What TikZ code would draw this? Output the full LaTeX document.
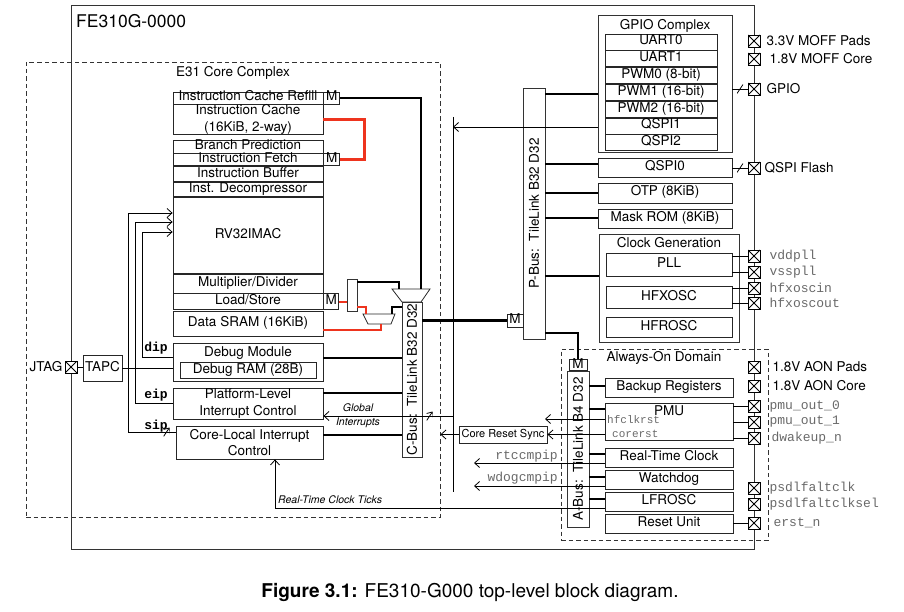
\documentclass[tikz,border=0pt]{standalone}
\usepackage{fontspec}
\setmainfont{TeX Gyre Heros}
\setsansfont{TeX Gyre Heros}
\setmonofont{Liberation Mono}
\usepackage{tikz}
\usetikzlibrary{positioning,arrows.meta}

\definecolor{linkred}{RGB}{238,52,30}
\definecolor{siggray}{RGB}{105,105,105}

\newcommand{\blkfont}{\fontsize{13.5}{16.5}\selectfont}
\newcommand{\sigfont}{\fontsize{13}{14}\selectfont\ttfamily}

\tikzset{
    blk/.style={draw=black!85, line width=0.8pt, inner sep=0pt, align=center, font=\blkfont},
    row/.style={blk, text height=8.5pt, text depth=2.5pt},
    mbox/.style={row, minimum width=16pt},
    grp/.style={draw=black!80, line width=0.8pt, inner sep=0pt},
    grplbl/.style={font=\blkfont, inner sep=0pt},
    dashbox/.style={grp, dash pattern=on 4.5pt off 3pt},
    muxline/.style={draw=black!85, line width=0.8pt, fill=white},
    wire/.style={line width=0.8pt},
    sig/.style={wire, -{Straight Barb[length=5pt,width=9pt]}},
    tlbus/.style={line width=2.8pt},
    redlink/.style={line width=2.6pt, draw=linkred},
    padbox/.style={draw, line width=0.8pt, fill=white, minimum size=12pt, inner sep=0pt,
        path picture={\draw[line width=0.8pt]
            (path picture bounding box.south west) -- (path picture bounding box.north east)
            (path picture bounding box.north west) -- (path picture bounding box.south east);}},
    padlbl/.style={font=\blkfont, inner sep=0pt},
    siglbl/.style={font=\sigfont, text=siggray, inner sep=0pt},
    irqlbl/.style={font=\fontsize{13}{14}\selectfont\ttfamily\bfseries, inner sep=0pt},
    note/.style={font=\fontsize{10.5}{12}\selectfont\itshape, inner sep=0pt},
    slashmark/.style={inner sep=0pt, minimum width=6pt, minimum height=9pt,
        path picture={\draw[wire] (path picture bounding box.south west) -- (path picture bounding box.north east);}},
}

\begin{document}
\begin{tikzpicture}[x=1pt, y=-1pt]
    \useasboundingbox (0,0) rectangle (904,612);

    % chip and domains
    \node[grp, minimum width=683pt, minimum height=544pt] (chip) at (412.5,277) {};
    \node[anchor=west, font=\fontsize{17.5}{20}\selectfont, inner sep=0pt] (chipname) at (76,21) {FE310G-0000};
    \node[dashbox, minimum width=414pt, minimum height=455pt] (e31) at (233,289.5) {};
    \node[grplbl] (e31name) at (233,73) {E31 Core Complex};
    \node[dashbox, minimum width=207pt, minimum height=191pt] (aon) at (664.5,444.5) {};
    \node[grplbl] (aonname) at (664,358) {Always-On Domain};

    % instruction side
    \node[row, minimum width=150pt, minimum height=12pt] (icrefill) at (248,98) {Instruction Cache Refill};
    \node[blk, minimum width=150pt, minimum height=29pt, below=0pt of icrefill] (icache) {Instruction Cache\\(16KiB, 2-way)};
    \node[mbox, minimum height=12pt, right=0pt of icrefill] (mirefill) {M};

    \node[row, minimum width=150pt, minimum height=13pt] (bpred) at (248,146.5) {Branch Prediction};
    \node[row, minimum width=150pt, minimum height=12pt, below=0pt of bpred] (ifetch) {Instruction Fetch};
    \node[row, minimum width=150pt, minimum height=15pt, below=0pt of ifetch] (ibuf) {Instruction Buffer};
    \node[row, minimum width=150pt, minimum height=14pt, below=0pt of ibuf] (idec) {Inst. Decompressor};
    \node[row, minimum width=150pt, minimum height=76pt, below=0pt of idec] (rvcore) {RV32IMAC};
    \node[row, minimum width=150pt, minimum height=19pt, below=0pt of rvcore] (muldiv) {Multiplier/Divider};
    \node[row, minimum width=150pt, minimum height=16pt, below=0pt of muldiv] (lsu) {Load/Store};
    \node[mbox, minimum height=12pt, right=0pt of ifetch] (mifetch) {M};
    \node[mbox, minimum width=15pt, minimum height=16pt, right=0pt of lsu] (mlsu) {M};

    % data side
    \node[row, minimum width=150pt, minimum height=25pt] (dsram) at (248,323.5) {Data SRAM (16KiB)};
    \node[blk, minimum width=150pt, minimum height=38pt] (dbg) at (248,362) {};
    \node[grplbl, below=4pt of dbg.north] (dbgname) {Debug Module};
    \node[row, minimum width=136pt, minimum height=16pt] (dram) at (248,370) {Debug RAM (28B)};
    \node[blk, minimum width=150pt, minimum height=31pt] (plic) at (248,403.5) {Platform-Level\\Interrupt Control};
    \node[blk, minimum width=147pt, minimum height=33pt] (clint) at (249.5,442.5) {Core-Local Interrupt\\Control};

    \node[padbox] (jtag) at (71,367) {};
    \node[padlbl, left=2pt of jtag] (jtagname) {JTAG};
    \node[row, minimum width=39pt, minimum height=26pt] (tapc) at (102.5,368) {TAPC};

    % muxes
    \node[grp, minimum width=10pt, minimum height=32pt] (demux) at (352,295) {};
    \draw[muxline] (392,289) -- (430,289) -- (421,302) -- (402,302) -- cycle;
    \draw[muxline] (363,314) -- (395,314) -- (391,324) -- (368,324) -- cycle;
    \coordinate (cmuxa) at (399,289);
    \coordinate (cmuxb) at (421,289);
    \coordinate (dmuxa) at (366,314);
    \coordinate (dmuxb) at (381,324);
    \coordinate (dmuxout) at (392,314);

    % buses
    \node[grp, minimum width=20pt, minimum height=155pt] (cbus) at (412,379.5) {};
    \node[rotate=90, font=\blkfont, inner sep=0pt] (cbusname) at (cbus) {C-Bus:\ \ TileLink B32 D32};
    \node[grp, minimum width=22pt, minimum height=251pt] (pbus) at (534,213.5) {};
    \node[rotate=90, font=\blkfont, inner sep=0pt] (pbusname) at (pbus) {P-Bus:\ \ TileLink B32 D32};
    \node[mbox, minimum height=13pt] (mpbus) at (515,320.5) {M};
    \node[grp, minimum width=22pt, minimum height=156pt] (abus) at (578,449) {};
    \node[rotate=90, font=\blkfont, inner sep=0pt] (abusname) at (abus) {A-Bus:\ \ TileLink B4 D32};
    \node[mbox, minimum width=18pt, minimum height=11pt, text height=8pt, text depth=1pt, above=0pt of abus] (mabus) {M};

    % peripherals
    \node[grp, minimum width=134pt, minimum height=137pt] (gpiocx) at (665,83.5) {};
    \node[grplbl, below=5pt of gpiocx.north] (gpioname) {GPIO Complex};
    \node[row, minimum width=112pt, minimum height=16pt] (uart0) at (661,42) {UART0};
    \node[row, minimum width=112pt, minimum height=16pt, below=0pt of uart0] (uart1) {UART1};
    \node[row, minimum width=112pt, minimum height=16pt, below=0pt of uart1] (pwm0) {PWM0 (8-bit)};
    \node[row, minimum width=112pt, minimum height=16pt, below=0pt of pwm0] (pwm1) {PWM1 (16-bit)};
    \node[row, minimum width=112pt, minimum height=16pt, below=0pt of pwm1] (pwm2) {PWM2 (16-bit)};
    \node[row, minimum width=112pt, minimum height=16pt, below=0pt of pwm2] (qspi1) {QSPI1};
    \node[row, minimum width=112pt, minimum height=16pt, below=0pt of qspi1] (qspi2) {QSPI2};

    \node[row, minimum width=134pt, minimum height=19pt] (qspi0) at (665,167.5) {QSPI0};
    \node[row, minimum width=134pt, minimum height=20pt] (otp) at (665,193) {OTP (8KiB)};
    \node[row, minimum width=134pt, minimum height=19pt] (mrom) at (665,218.5) {Mask ROM (8KiB)};

    \node[grp, minimum width=140pt, minimum height=108pt] (clkgen) at (669,288) {};
    \node[grplbl, below=4pt of clkgen.north] (clkname) {Clock Generation};
    \node[row, minimum width=126pt, minimum height=23pt] (pll) at (669,264.5) {PLL};
    \node[row, minimum width=126pt, minimum height=22pt] (hfxosc) at (669,297) {HFXOSC};
    \node[row, minimum width=126pt, minimum height=20pt] (hfrosc) at (669,327) {HFROSC};

    % always-on
    \node[row, minimum width=128pt, minimum height=19pt] (bkreg) at (669,387.5) {Backup Registers};
    \node[blk, minimum width=128pt, minimum height=37pt] (pmu) at (669,421.5) {};
    \node[grplbl, below=3pt of pmu.north] (pmuname) {PMU};
    \node[row, minimum width=128pt, minimum height=19pt] (rtc) at (669,457.5) {Real-Time Clock};
    \node[row, minimum width=128pt, minimum height=19pt] (wdog) at (669,479.5) {Watchdog};
    \node[row, minimum width=128pt, minimum height=19pt] (lfrosc) at (669,501.5) {LFROSC};
    \node[row, minimum width=128pt, minimum height=19pt] (rstunit) at (669,523.5) {Reset Unit};
    \node[blk, font=\fontsize{11}{12}\selectfont, minimum width=88pt, minimum height=17pt] (crsync) at (503,434.5) {Core Reset Sync};

    % red links
    \draw[redlink] (icache.east) -- ++(41,0) |- (mifetch.east);
    \draw[redlink] (mlsu.east) -- (mlsu.east -| demux.west);
    \draw[redlink] ([yshift=-12pt]demux.east) -| (dmuxa);
    \draw[redlink] ([yshift=-6.5pt]dsram.east) -| (dmuxb);

    % tilelink
    \draw[tlbus] (mirefill.east) -| (cmuxb);
    \draw[tlbus] ([yshift=13pt]demux.east) -| (cmuxa);
    \draw[tlbus] (dmuxout) |- (cbus.west |- 0,307);
    \draw[tlbus] (cbus.east |- mpbus) -- (mpbus.west);
    \draw[tlbus] (dbg.east |- 0,358) -- (cbus.west |- 0,358);
    \draw[tlbus] (plic.east |- 0,393) -- (cbus.west |- 0,393);
    \draw[tlbus] (clint.east |- 0,435) -- (cbus.west |- 0,435);
    \foreach \dev/\y in {gpiocx/94, qspi0/164, otp/193, mrom/218, clkgen/276}
        \draw[tlbus] (pbus.east |- 0,\y) -- (\dev.west |- 0,\y);
    \draw[tlbus] (pbus.east |- 0,333) -| (mabus.north);
    \foreach \dev/\y in {bkreg/386, pmu/409, rtc/454, wdog/477, lfrosc/499}
        \draw[tlbus] (abus.east |- 0,\y) -- (\dev.west |- 0,\y);

    % debug and interrupts
    \draw[wire] (jtag.east) -- (tapc.west |- jtag.east);
    \draw[wire] (tapc.east) -- (tapc.east -| dbg.west);
    \draw[sig] (dbg.west |- 0,357) -- (142,357) -- (142,232) -- (rvcore.west |- 0,232);
    \draw[sig] (plic.west |- 0,403) -- (135,403) -- (135,222) -- (rvcore.west |- 0,222);
    \draw[sig] (clint.west |- 0,432) -- node[slashmark, pos=0.19] {} (128,432) -- (128,213) -- (rvcore.west |- 0,213);
    \node[irqlbl] (diplbl) at (156,348) {dip};
    \node[irqlbl] (eiplbl) at (156,395) {eip};
    \node[irqlbl] (siplbl) at (156,426) {sip};

    \coordinate (irqtop) at (453,117);
    \coordinate (irqbot) at (453,492);
    \draw[wire] (irqtop) -- (irqbot);
    \draw[sig] (gpiocx.west |- 0,127) -- (irqtop |- 0,127);
    \draw[sig] (irqtop |- 0,416) -- node[slashmark, pos=0.18] {} (plic.east |- 0,416);
    \node[note] (globlbl) at (358,408) {Global};
    \node[note] (intrlbl) at (358,423) {Interrupts};

    % resets and clocks
    \draw[sig] (crsync.west) -- (e31.east |- crsync.west);
    \coordinate (hfclkend) at (545,419);
    \draw[sig] (pmu.west |- hfclkend) -- (hfclkend);
    \draw[sig] (pmu.west |- crsync.east) -- (crsync.east);
    \node[siglbl, font=\fontsize{11}{12}\selectfont\ttfamily, anchor=west] (hfclklbl) at (607,420) {hfclkrst};
    \node[siglbl, font=\fontsize{11}{12}\selectfont\ttfamily, anchor=west] (corelbl) at (612,434) {corerst};

    \coordinate (rtcend) at (474,463);
    \coordinate (wdogend) at (474,486);
    \draw[sig] (rtc.west |- rtcend) -- (rtcend);
    \draw[sig] (wdog.west |- wdogend) -- (wdogend);
    \node[siglbl, anchor=base east] (rtclbl) at (558,459) {rtccmpip};
    \node[siglbl, anchor=base east] (wdoglbl) at (558,481) {wdogcmpip};

    \draw[sig] (lfrosc.west |- 0,508) -| (clint.south -| 275,0);
    \node[note, anchor=west] (tickslbl) at (278,500) {Real-Time Clock Ticks};

    % pads
    \node[padbox] (p33pads) at (754,41) {};
    \node[padbox] (p18core) at (754,59) {};
    \node[padbox] (gpiopad) at (754,89) {};
    \node[padbox] (qspipad) at (754,168) {};
    \node[padbox] (vddpll) at (754,256) {};
    \node[padbox] (vsspll) at (754,272) {};
    \node[padbox] (hfxin) at (754,288) {};
    \node[padbox] (hfxout) at (754,303) {};
    \node[padbox] (aonpads) at (754,367) {};
    \node[padbox] (aoncore) at (754,386) {};
    \node[padbox] (pmuout0) at (754,406) {};
    \node[padbox] (pmuout1) at (754,422) {};
    \node[padbox] (dwake) at (754,438) {};
    \node[padbox] (psdlclk) at (754,488) {};
    \node[padbox] (psdlsel) at (754,504) {};
    \node[padbox] (erstpad) at (754,523) {};

    \node[padlbl, right=6pt of p33pads] {3.3V MOFF Pads};
    \node[padlbl, right=9pt of p18core] {1.8V MOFF Core};
    \node[padlbl, right=6pt of gpiopad] {GPIO};
    \node[padlbl, right=4pt of qspipad] {QSPI Flash};
    \node[siglbl, right=9pt of vddpll] {vddpll};
    \node[siglbl, right=9pt of vsspll] {vsspll};
    \node[siglbl, right=9pt of hfxin] {hfxoscin};
    \node[siglbl, right=9pt of hfxout] {hfxoscout};
    \node[padlbl, right=12pt of aonpads] {1.8V AON Pads};
    \node[padlbl, right=12pt of aoncore] {1.8V AON Core};
    \node[siglbl, right=9pt of pmuout0] {pmu\_out\_0};
    \node[siglbl, right=9pt of pmuout1] {pmu\_out\_1};
    \node[siglbl, right=11pt of dwake] {dwakeup\_n};
    \node[siglbl, right=9pt of psdlclk] {psdlfaltclk};
    \node[siglbl, right=9pt of psdlsel] {psdlfaltclksel};
    \node[siglbl, right=13pt of erstpad] {erst\_n};

    \draw[wire] (gpiocx.east |- gpiopad) -- node[slashmark] {} (gpiopad.west);
    \draw[wire] (qspi0.east |- qspipad) -- node[slashmark] {} (qspipad.west);
    \foreach \p in {vddpll, vsspll}
        \draw[wire] (pll.east |- \p) -- (\p.west);
    \foreach \p in {hfxin, hfxout}
        \draw[wire] (hfxosc.east |- \p) -- (\p.west);
    \foreach \p in {pmuout0, pmuout1, dwake}
        \draw[wire] (pmu.east |- \p) -- (\p.west);
    \draw[wire] (rstunit.east |- erstpad) -- (erstpad.west);

    \node[font=\fontsize{19}{21}\selectfont, inner sep=0pt] (caption) at (470,592) {\textbf{Figure 3.1:} FE310-G000 top-level block diagram.};
\end{tikzpicture}
\end{document}
